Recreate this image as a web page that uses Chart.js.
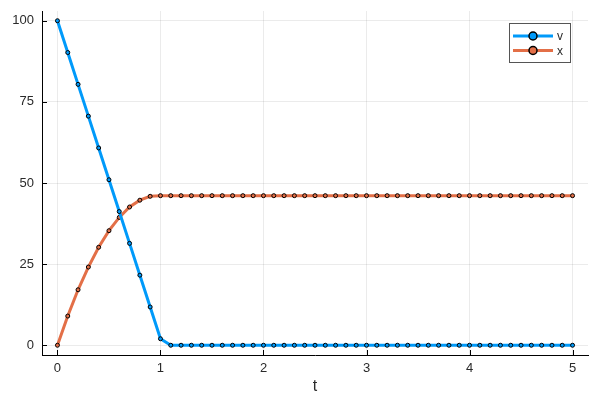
<!DOCTYPE html>
<html>
<head>
<meta charset="utf-8">
<script src="https://cdn.jsdelivr.net/npm/chart.js@4/dist/chart.umd.min.js"></script>
<style>
  html, body { margin: 0; padding: 0; background: #fff; }
  #wrap { width: 600px; height: 400px; }
</style>
</head>
<body>
<div id="wrap"><canvas id="chart" width="600" height="400"></canvas></div>
<script>
// time steps
const t = [0, 0.1, 0.2, 0.3, 0.4, 0.5, 0.6, 0.7, 0.8, 0.9, 1.0,
    1.1, 1.2, 1.3, 1.4, 1.5, 1.6, 1.7, 1.8, 1.9, 2.0,
    2.1, 2.2, 2.3, 2.4, 2.5, 2.6, 2.7, 2.8, 2.9, 3.0,
    3.1, 3.2, 3.3, 3.4, 3.5, 3.6, 3.7, 3.8, 3.9, 4.0,
    4.1, 4.2, 4.3, 4.4, 4.5, 4.6, 4.7, 4.8, 4.9, 5.0];

// series v
const vValues = [100, 90.2, 80.4, 70.6, 60.8, 51, 41.2, 31.4, 21.6, 11.8, 2,
    0, 0, 0, 0, 0, 0, 0, 0, 0, 0,
    0, 0, 0, 0, 0, 0, 0, 0, 0, 0,
    0, 0, 0, 0, 0, 0, 0, 0, 0, 0,
    0, 0, 0, 0, 0, 0, 0, 0, 0, 0];

// series x
const xValues = [0, 9, 17.1, 24.1, 30.2, 35.3, 39.4, 42.6, 44.7, 45.9, 46.1,
    46.1, 46.1, 46.1, 46.1, 46.1, 46.1, 46.1, 46.1, 46.1, 46.1,
    46.1, 46.1, 46.1, 46.1, 46.1, 46.1, 46.1, 46.1, 46.1, 46.1,
    46.1, 46.1, 46.1, 46.1, 46.1, 46.1, 46.1, 46.1, 46.1, 46.1,
    46.1, 46.1, 46.1, 46.1, 46.1, 46.1, 46.1, 46.1, 46.1, 46.1];

const seriesNames = ['v', 'x'];
const xTicks = [0, 1, 2, 3, 4, 5];
const yTicks = [0, 25, 50, 75, 100];

const colors = ['#009AFA', '#E36F47'];
const FONT = "'Liberation Sans', Arial, sans-serif";
const TEXT = '#2a2a2a';

function makeDataset(name, values, color) {
    return {
        label: name,
        data: t.map((tt, i) => ({ x: tt, y: values[i] })),
        borderColor: color,
        backgroundColor: color,
        borderWidth: 3,
        pointRadius: 2,
        pointBorderWidth: 1,
        pointBorderColor: '#000',
        pointBackgroundColor: color,
        tension: 0,
        fill: false
    };
}

// small inward tick marks on both axes
const tickPlugin = {
    id: 'innerTicks',
    afterDraw(chart) {
        const ctx = chart.ctx;
        const xs = chart.scales.x, ys = chart.scales.y;
        const area = chart.chartArea;
        ctx.save();
        ctx.strokeStyle = '#000';
        ctx.lineWidth = 1;
        ctx.beginPath();
        xTicks.forEach(v => {
            const px = Math.round(xs.getPixelForValue(v)) + 0.5;
            ctx.moveTo(px, area.bottom);
            ctx.lineTo(px, area.bottom - 5);
        });
        yTicks.forEach(v => {
            const py = Math.round(ys.getPixelForValue(v)) + 0.5;
            ctx.moveTo(area.left, py);
            ctx.lineTo(area.left + 5, py);
        });
        ctx.stroke();
        ctx.restore();
    }
};

// legend drawn like the Plots.jl box
const legendPlugin = {
    id: 'boxLegend',
    afterDraw(chart) {
        const ctx = chart.ctx;
        const bx = 509, by = 23, bw = 61, bh = 39;
        ctx.save();
        ctx.fillStyle = '#fff';
        ctx.fillRect(bx, by, bw, bh);
        ctx.strokeStyle = '#555';
        ctx.lineWidth = 1;
        ctx.strokeRect(bx + 0.5, by + 0.5, bw, bh);
        seriesNames.forEach((name, i) => {
            const y = by + 13 + i * 14.5;
            ctx.strokeStyle = colors[i];
            ctx.lineWidth = 3;
            ctx.beginPath();
            ctx.moveTo(513, y);
            ctx.lineTo(553, y);
            ctx.stroke();
            ctx.beginPath();
            ctx.arc(533, y, 4, 0, Math.PI * 2);
            ctx.fillStyle = colors[i];
            ctx.fill();
            ctx.lineWidth = 1.5;
            ctx.strokeStyle = '#000';
            ctx.stroke();
            ctx.fillStyle = TEXT;
            ctx.font = '12px ' + FONT;
            ctx.textBaseline = 'middle';
            ctx.fillText(name, 557, y + 1);
        });
        ctx.restore();
    }
};

new Chart(document.getElementById('chart').getContext('2d'), {
    type: 'line',
    data: {
        datasets: [
            makeDataset(seriesNames[0], vValues, colors[0]),
            makeDataset(seriesNames[1], xValues, colors[1])
        ]
    },
    options: {
        responsive: false,
        animation: false,
        layout: { padding: { top: 11, right: 12, left: 0, bottom: 0 } },
        plugins: {
            legend: { display: false },
            tooltip: { enabled: false }
        },
        scales: {
            x: {
                type: 'linear',
                min: -0.15,
                max: 5.15,
                afterBuildTicks: (s) => { s.ticks = xTicks.map(v => ({ value: v })); },
                afterFit: (s) => { s.height = 45; s.paddingLeft = 0; s.paddingRight = 0; },
                grid: { color: 'rgba(0,0,0,0.08)', lineWidth: 1, drawTicks: false },
                border: { color: '#000', width: 1 },
                ticks: {
                    color: TEXT,
                    padding: 6,
                    maxRotation: 0,
                    font: { family: FONT, size: 13 }
                },
                title: {
                    display: true,
                    text: 't',
                    color: TEXT,
                    padding: { top: 2, bottom: 4 },
                    font: { family: FONT, size: 16 }
                }
            },
            y: {
                min: -3,
                max: 103,
                afterBuildTicks: (s) => { s.ticks = yTicks.map(v => ({ value: v })); },
                afterFit: (s) => { s.width = 42; s.paddingTop = 0; s.paddingBottom = 0; },
                grid: { color: 'rgba(0,0,0,0.08)', lineWidth: 1, drawTicks: false },
                border: { color: '#000', width: 1 },
                ticks: {
                    color: TEXT,
                    padding: 8,
                    font: { family: FONT, size: 13 }
                }
            }
        }
    },
    plugins: [tickPlugin, legendPlugin]
});
</script>
</body>
</html>
